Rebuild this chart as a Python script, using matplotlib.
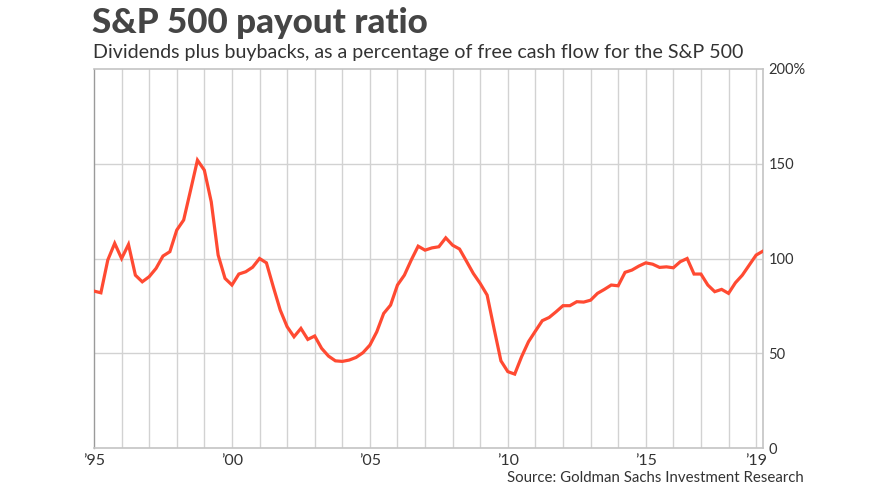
import matplotlib
matplotlib.use('Agg')
import matplotlib.pyplot as plt
import numpy as np

# quarterly payout ratio, % of free cash flow
start_year = 1995.0
payout = [
    82.8, 81.9, 99.2, 108.0,     # 1995
    100.0, 107.4, 91.2, 87.7,    # 1996
    90.4, 94.8, 101.3, 103.6,    # 1997
    115.0, 120.3, 136.0, 151.9,  # 1998
    146.6, 129.9, 101.8, 89.5,   # 1999
    86.0, 91.8, 93.0, 95.4,      # 2000
    100.0, 97.7, 85.0, 72.8,     # 2001
    64.0, 58.7, 63.1, 57.3,      # 2002
    59.1, 52.6, 48.5, 46.0,      # 2003
    45.7, 46.4, 47.8, 50.3,      # 2004
    54.3, 61.3, 71.0, 75.4,      # 2005
    86.0, 91.2, 99.2, 106.5,     # 2006
    104.4, 105.6, 106.2, 110.9,  # 2007
    107.0, 105.0, 98.6, 92.1,    # 2008
    86.8, 80.7, 63.1, 46.0,      # 2009
    40.3, 39.0, 48.2, 56.1,      # 2010
    61.7, 67.2, 68.9, 71.9,      # 2011
    75.1, 75.1, 77.2, 77.0,      # 2012
    78.0, 81.6, 83.7, 86.0,      # 2013
    85.6, 92.7, 93.9, 96.0,      # 2014
    97.7, 97.0, 95.3, 95.6,      # 2015
    95.1, 98.3, 100.0, 91.8,     # 2016
    91.8, 86.0, 82.5, 83.7,      # 2017
    81.6, 87.2, 91.2, 96.5,      # 2018
    101.8, 103.9,                # 2019
]
years = start_year + np.arange(len(payout)) * 0.25

xtick_pos = [1995, 2000, 2005, 2010, 2015, 2019]
xtick_labels = ['\u201995', '\u201900', '\u201905', '\u201910', '\u201915', '\u201919']
ytick_pos = [0, 50, 100, 150, 200]
ytick_labels = ['0', '50', '100', '150', '200%']

plt.rcParams['font.family'] = ['Lato', 'DejaVu Sans']

fig = plt.figure(figsize=(8.9, 5.01), dpi=100)
ax = fig.add_axes([94 / 890, 53 / 501, (763 - 94) / 890, (448 - 69) / 501])

ax.plot(years, payout, color='#ff4a32', linewidth=2.3, solid_joinstyle='miter', zorder=3)

ax.set_xlim(1995, 2019.25)
ax.set_ylim(0, 200)

# year gridlines
for yr in range(1996, 2020):
    ax.axvline(yr, color='#d2d2d2', linewidth=1.0, zorder=1)
for v in [50, 100, 150]:
    ax.axhline(v, color='#d2d2d2', linewidth=1.0, zorder=1)

for side in ['top', 'right', 'bottom']:
    ax.spines[side].set_color('#c4c4c4')
    ax.spines[side].set_linewidth(1.2)
ax.spines['left'].set_color('#9a9a9a')
ax.spines['left'].set_linewidth(1.0)

ax.set_xticks(xtick_pos)
ax.set_xticklabels(xtick_labels)
ax.yaxis.tick_right()
ax.set_yticks(ytick_pos)
ax.set_yticklabels(ytick_labels)
ax.tick_params(axis='y', length=0, labelsize=10.5, colors='#333333', pad=4)
ax.tick_params(axis='x', length=0, labelsize=11.5, colors='#333333', pad=4)

fig.text(92 / 890, 1 - 33 / 501, 'S&P 500 payout ratio', fontsize=25.2,
         fontweight='black', color='#454545', ha='left', va='baseline')
fig.text(93 / 890, 1 - 58 / 501,
         'Dividends plus buybacks, as a percentage of free cash flow for the S&P 500',
         fontsize=14.1, color='#333333', ha='left', va='baseline')
fig.text(804 / 890, 1 - 482 / 501, 'Source: Goldman Sachs Investment Research',
         fontsize=10.8, color='#333333', ha='right', va='baseline')

fig.savefig('out.png', dpi=100)
